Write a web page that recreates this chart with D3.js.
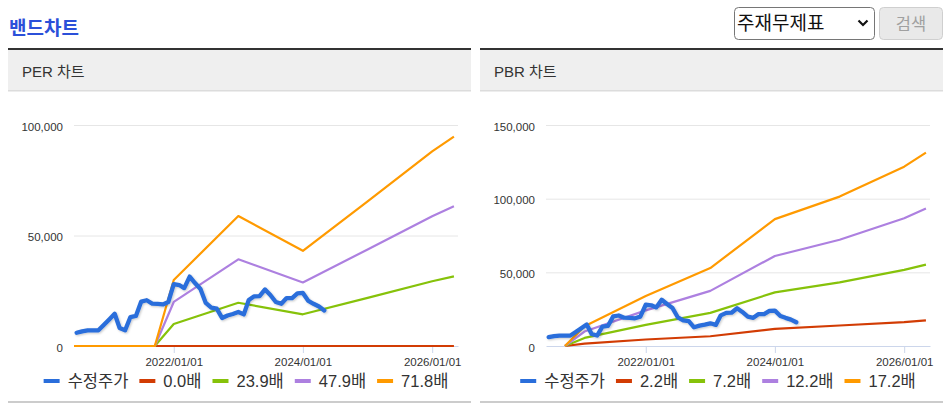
<!DOCTYPE html>
<html><head><meta charset="utf-8">
<script src="https://cdn.jsdelivr.net/npm/d3@7"></script>
<style>body{margin:0;background:#fff;}svg{display:block;}</style>
</head><body>
<svg id="c" width="950" height="409"></svg>
<script>
// ---------- DATA ----------
const stockDates = ["2020-07-01","2020-08-01","2020-09-01","2020-10-01","2020-11-01","2020-12-01",
"2021-01-01","2021-02-01","2021-03-01","2021-04-01","2021-05-01","2021-06-01","2021-07-01","2021-08-01",
"2021-09-01","2021-10-01","2021-11-01","2021-12-01","2022-01-01","2022-02-01","2022-03-01","2022-04-01",
"2022-05-01","2022-06-01","2022-07-01","2022-08-01","2022-09-01","2022-10-01","2022-11-01","2022-12-01",
"2023-01-01","2023-02-01","2023-03-01","2023-04-01","2023-05-01","2023-06-01","2023-07-01","2023-08-01",
"2023-09-01","2023-10-01","2023-11-01","2023-12-01","2024-01-01","2024-02-01","2024-03-01","2024-04-01","2024-05-01"];
const stockPrices = [6000,6650,7100,7100,7100,9500,12000,14600,8150,7100,13100,13600,20100,20700,
19200,19100,18800,19900,28000,27600,26200,31400,28500,25800,19500,17400,16900,12700,13800,14500,
15400,14300,20800,22500,22600,25600,23100,19900,19100,21700,21700,23800,24000,20400,19100,17900,16100];

const perBandDates = ["2020-06-16","2021-09-16","2022-01-01","2023-01-01","2024-01-01","2025-01-01","2026-01-01","2026-05-04"];
const perBand0  = [0,0,0,0,0,0,0,0];
const perBand1  = [0,0,9940,19570,14340,21800,29300,31520];
const perBand2  = [0,0,19930,39230,28740,43680,58730,63180];
const perBand3  = [0,0,29870,58800,43080,65480,88030,94700];
const perLegend = ["수정주가","0.0배","23.9배","47.9배","71.8배"];
const perYTicks = [0,50000,100000];

const pbrBandDates = ["2020-10-01","2021-01-20","2022-01-01","2023-01-01","2024-01-01","2025-01-01","2026-01-01","2026-05-04"];
const pbrBand0  = [0,1600,4400,6600,11600,13900,16200,17400];
const pbrBand1  = [0,5500,14300,22500,36400,43200,51700,55200];
const pbrBand2  = [0,9800,24200,37400,61100,72100,86700,93300];
const pbrBand3  = [0,13400,34000,52900,86100,101400,121700,131200];
const pbrLegend = ["수정주가","2.2배","7.2배","12.2배","17.2배"];
const pbrYTicks = [0,50000,100000,150000];

const xTickDates  = ["2022-01-01","2024-01-01","2026-01-01"];
const xTickLabels = ["2022/01/01","2024/01/01","2026/01/01"];
const xDomain = ["2020-06-16","2026-05-27"];

const seriesColors = ["#2a6edb","#d23c04","#86c20a","#ad80e0","#ff9a00"];

// ---------- DRAW ----------
const parse = d3.utcParse("%Y-%m-%d");
const svg = d3.select("#c");
const KFONT = "'Noto Sans CJK KR','Noto Sans',sans-serif";
const NFONT = "'Liberation Sans','Noto Sans CJK KR',sans-serif";

const defs = svg.append("defs");
const f = defs.append("filter").attr("id","sh").attr("x","-5%").attr("y","-10%").attr("width","110%").attr("height","130%");
f.append("feDropShadow").attr("dx",1).attr("dy",1).attr("stdDeviation",1).attr("flood-color","#000").attr("flood-opacity",0.22);

// Title
svg.append("text").attr("x",9).attr("y",34.5).text("밴드차트")
  .style("font-family",KFONT).style("font-size","19px").style("font-weight","bold").attr("fill","#2b50d9");

// select box
svg.append("rect").attr("x",734.5).attr("y",7.5).attr("width",140).attr("height",32).attr("rx",4)
  .attr("fill","#fff").attr("stroke","#767676");
svg.append("text").attr("x",737).attr("y",30).text("주재무제표")
  .style("font-family",KFONT).style("font-size","19px").attr("fill","#111");
svg.append("path").attr("d","M858.5,20.5 L863,25 L867.5,20.5").attr("fill","none").attr("stroke","#111").attr("stroke-width",2.2);
// button
svg.append("rect").attr("x",879.5).attr("y",7.5).attr("width",63).attr("height",32).attr("rx",4)
  .attr("fill","#e9e9e9").attr("stroke","#cfcfcf");
svg.append("text").attr("x",911).attr("y",30).attr("text-anchor","middle").text("검색")
  .style("font-family",KFONT).style("font-size","16.5px").attr("fill","#a0a0a0");

function drawPanel(px, title, bandDates, bands, legend, yTicks, yMax) {
  const g = svg.append("g");
  const pw = 463;
  g.append("rect").attr("x",px).attr("y",48).attr("width",pw).attr("height",2).attr("fill","#333");
  g.append("rect").attr("x",px).attr("y",50).attr("width",pw).attr("height",40).attr("fill","#efefef");
  g.append("rect").attr("x",px).attr("y",90).attr("width",pw).attr("height",1.5).attr("fill","#dcdcdc");
  g.append("text").attr("x",px+14).attr("y",77).text(title)
    .style("font-family",NFONT).style("font-size","15px").attr("fill","#333");
  g.append("rect").attr("x",px).attr("y",401).attr("width",pw).attr("height",2).attr("fill","#cccccc");

  const left = px+66, right = px+450, top = 125, bottom = 346;
  const x = d3.scaleUtc().domain(xDomain.map(parse)).range([left,right]);
  const y = d3.scaleLinear().domain([0,yMax]).range([bottom,top]);

  // y grid + labels
  const ya = g.append("g").attr("transform",`translate(${left},0)`)
    .call(d3.axisLeft(y).tickValues(yTicks).tickSize(-(right-left)).tickPadding(11).tickFormat(d3.format(",")));
  ya.select(".domain").remove();
  ya.selectAll(".tick line").attr("stroke",d=>d===0?"none":"#e6e6e6");
  ya.selectAll(".tick text").attr("dy",5).attr("fill","#333")
    .style("font-family",NFONT).style("font-size","11.5px");

  // x axis
  const xa = g.append("g").attr("transform",`translate(0,${bottom})`)
    .call(d3.axisBottom(x).tickValues(xTickDates.map(parse)).tickSize(7).tickSizeOuter(0).tickPadding(4.8)
      .tickFormat((d,i)=>xTickLabels[i]));
  xa.select(".domain").attr("stroke","#ccd6eb");
  xa.selectAll(".tick line").attr("stroke","#ccd6eb");
  xa.selectAll(".tick text").attr("fill","#333").style("font-family",NFONT).style("font-size","11.5px");

  const line = d3.line().x(d=>x(d.date)).y(d=>y(d.v));
  bands.forEach((vals,i)=>{
    const data = bandDates.map((d,j)=>({date:parse(d),v:vals[j]}));
    g.append("path").datum(data).attr("d",line).attr("fill","none")
      .attr("stroke",seriesColors[i+1]).attr("stroke-width",2.2).attr("stroke-linejoin","round");
  });
  const sdata = stockDates.map((d,j)=>({date:parse(d),v:stockPrices[j]}));
  g.append("path").datum(sdata).attr("d",line).attr("fill","none").attr("filter","url(#sh)")
    .attr("stroke",seriesColors[0]).attr("stroke-width",4.3).attr("stroke-linejoin","round").attr("stroke-linecap","round");

  // legend
  const lg = g.append("g");
  let cx = 0;
  legend.forEach((lab,i)=>{
    const it = lg.append("g");
    it.append("line").attr("x1",0).attr("x2",16).attr("y1",381).attr("y2",381)
      .attr("stroke",seriesColors[i]).attr("stroke-width",4);
    const t = it.append("text").attr("x",24).attr("y",387).text(lab)
      .style("font-family",NFONT).style("font-size","16.5px").attr("fill","#333");
    const w = 24 + t.node().getComputedTextLength();
    it.attr("transform",`translate(${cx},0)`);
    cx += w + 11;
  });
  const total = cx - 11;
  lg.attr("transform",`translate(${px+238-total/2},0)`);
}

drawPanel(8, "PER 차트", perBandDates, [perBand0,perBand1,perBand2,perBand3], perLegend, perYTicks, 100000);
drawPanel(480, "PBR 차트", pbrBandDates, [pbrBand0,pbrBand1,pbrBand2,pbrBand3], pbrLegend, pbrYTicks, 150000);
</script>
</body></html>
